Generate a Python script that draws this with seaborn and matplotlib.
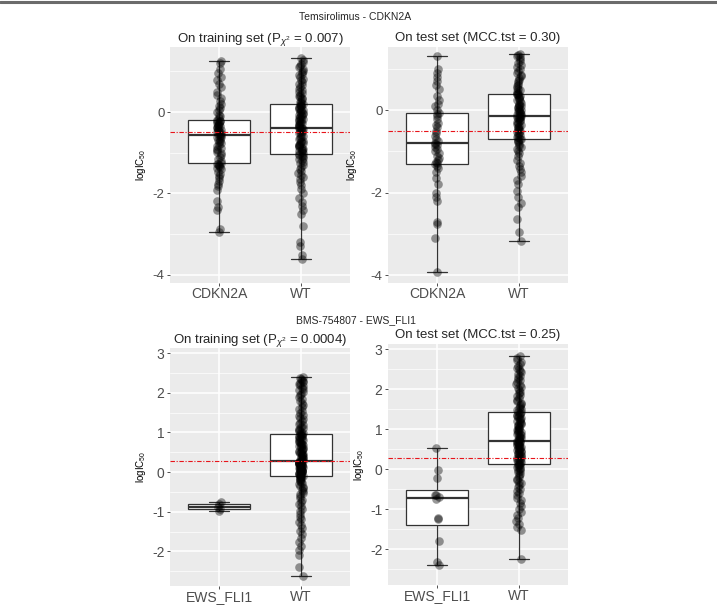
import numpy as np
import pandas as pd
import matplotlib
matplotlib.use("Agg")
import matplotlib.pyplot as plt
import seaborn as sns
from matplotlib.lines import Line2D

# ---------------- data ----------------
tem_groups = ["CDKN2A", "WT"]
bms_groups = ["EWS_FLI1", "WT"]

tem_train_cdkn2a = [
    -2.95, -2.87, -2.41, -2.33, -2.18, -1.92, -1.81, -1.76, -1.69, -1.63,
    -1.56, -1.51, -1.46, -1.41, -1.38, -1.35, -1.32, -1.3, -1.28, -1.27,
    -1.25,
    -1.21, -1.16, -1.1, -1.06, -1.01, -0.97, -0.94, -0.9, -0.87, -0.83,
    -0.8, -0.77, -0.74, -0.71, -0.69, -0.65, -0.62, -0.6, -0.58,
    -0.57,
    -0.55, -0.53, -0.52, -0.49, -0.47, -0.45, -0.43, -0.41, -0.39, -0.37,
    -0.35, -0.34, -0.31, -0.29, -0.27, -0.25, -0.23, -0.22, -0.21,
    -0.2,
    -0.15, -0.1, -0.06, 0.0, 0.05, 0.11, 0.16, 0.21, 0.28, 0.35,
    0.43, 0.5, 0.61, 0.7, 0.78, 0.86, 0.95, 1.06, 1.2, 1.26,
]
tem_train_wt = [
    -3.6, -3.5, -3.3, -3.2, -2.8, -2.5, -2.4, -2.3, -2.2, -2.1,
    -2.0, -1.9, -1.8, -1.72, -1.65, -1.6, -1.55, -1.5, -1.45, -1.4,
    -1.35, -1.3, -1.26, -1.22, -1.18, -1.15, -1.12, -1.09, -1.07, -1.05,
    -1.03,
    -1.0, -0.98, -0.96, -0.94, -0.92, -0.9, -0.88, -0.86, -0.84, -0.82,
    -0.8, -0.78, -0.76, -0.74, -0.72, -0.7, -0.67, -0.64, -0.61, -0.58,
    -0.55, -0.52, -0.5, -0.48, -0.46, -0.44, -0.42, -0.4, -0.39,
    -0.38,
    -0.36, -0.34, -0.32, -0.3, -0.28, -0.26, -0.24, -0.22, -0.2, -0.18,
    -0.16, -0.14, -0.12, -0.1, -0.08, -0.06, -0.04, -0.02, 0.0, 0.02,
    0.04, 0.06, 0.08, 0.1, 0.12, 0.14, 0.16, 0.17, 0.18,
    0.19,
    0.22, 0.25, 0.28, 0.31, 0.34, 0.37, 0.4, 0.43, 0.46, 0.5,
    0.54, 0.58, 0.62, 0.66, 0.7, 0.74, 0.78, 0.82, 0.86, 0.9,
    0.94, 0.98, 1.02, 1.06, 1.1, 1.14, 1.18, 1.22, 1.28, 1.33,
]
tem_test_cdkn2a = [
    -3.93, -3.1, -2.75, -2.7, -2.2, -2.1, -2.0, -1.8, -1.65, -1.5, -1.4, -1.35,
    -1.31,
    -1.28, -1.25, -1.2, -1.15, -1.1, -1.05, -1.0, -0.95, -0.9, -0.85, -0.82,
    -0.79,
    -0.75, -0.7, -0.62, -0.55, -0.5, -0.42, -0.35, -0.3, -0.22, -0.15, -0.1,
    -0.06,
    0.0, 0.1, 0.15, 0.25, 0.35, 0.5, 0.6, 0.7, 0.8, 0.9, 1.0, 1.3,
]
tem_test_wt = [
    -3.17, -2.95, -2.65, -2.35, -2.25, -2.1, -1.95, -1.8, -1.7, -1.6,
    -1.5, -1.42, -1.35, -1.28, -1.2, -1.12, -1.05, -1.0, -0.95, -0.9,
    -0.86, -0.82, -0.78, -0.75, -0.73,
    -0.71,
    -0.69, -0.66, -0.64, -0.61, -0.58, -0.56, -0.53, -0.5, -0.48, -0.45,
    -0.43, -0.4, -0.38, -0.35, -0.33, -0.3, -0.28, -0.26, -0.24, -0.22,
    -0.2, -0.18, -0.17, -0.16,
    -0.15,
    -0.13, -0.11, -0.09, -0.07, -0.05, -0.03, -0.01, 0.01, 0.03, 0.05,
    0.07, 0.09, 0.11, 0.13, 0.15, 0.18, 0.21, 0.24, 0.27, 0.3,
    0.32, 0.34, 0.36, 0.38,
    0.39,
    0.42, 0.45, 0.48, 0.51, 0.54, 0.58, 0.62, 0.66, 0.7, 0.74,
    0.78, 0.82, 0.86, 0.9, 0.95, 1.0, 1.05, 1.1, 1.15, 1.2,
    1.24, 1.28, 1.31, 1.33, 1.36,
]
bms_train_ews = [-0.98, -0.94, -0.89, -0.81, -0.74]
bms_train_wt = [
    -2.62, -2.4, -2.1, -1.95, -1.85, -1.75, -1.65, -1.55, -1.48, -1.4,
    -1.32, -1.25, -1.18, -1.12, -1.05, -0.98, -0.92, -0.86, -0.8, -0.75,
    -0.7, -0.65, -0.6, -0.56, -0.52, -0.48, -0.44, -0.4, -0.37, -0.34,
    -0.31, -0.28, -0.25, -0.22, -0.2, -0.18, -0.16, -0.14, -0.13, -0.12,
    -0.1,
    -0.09, -0.08, -0.07, -0.06, -0.05, -0.04, -0.03, -0.02, -0.01, 0.0,
    0.01, 0.02, 0.03, 0.04, 0.05, 0.06, 0.07, 0.08, 0.09, 0.1,
    0.11, 0.12, 0.13, 0.14, 0.15, 0.16, 0.17, 0.18, 0.19, 0.2,
    0.21, 0.22, 0.23, 0.24, 0.25, 0.26, 0.265, 0.27, 0.275,
    0.28,
    0.3, 0.31, 0.33, 0.35, 0.36, 0.38, 0.4, 0.42, 0.43, 0.45,
    0.47, 0.49, 0.5, 0.52, 0.54, 0.56, 0.57, 0.59, 0.61, 0.63,
    0.65, 0.66, 0.68, 0.7, 0.72, 0.74, 0.75, 0.77, 0.79, 0.81,
    0.83, 0.84, 0.86, 0.88, 0.9, 0.91, 0.92, 0.94, 0.95,
    0.96,
    0.98, 1.0, 1.03, 1.06, 1.09, 1.12, 1.15, 1.18, 1.21, 1.25,
    1.29, 1.33, 1.37, 1.41, 1.45, 1.5, 1.55, 1.6, 1.65, 1.7,
    1.75, 1.8, 1.85, 1.9, 1.94, 1.98, 2.02, 2.06, 2.1, 2.13,
    2.16, 2.19, 2.22, 2.25, 2.28, 2.3, 2.33, 2.35, 2.38, 2.4,
]
bms_test_ews = [-2.4, -2.32, -1.8, -1.25, -1.22, -0.74, -0.7, -0.66, -0.64, -0.22, -0.02, 0.52]
bms_test_wt = [
    -2.24, -1.52, -1.45, -1.38, -1.3, -1.22, -1.15, -1.08, -1.0, -0.92,
    -0.85, -0.78, -0.72, -0.66, -0.6, -0.55, -0.5, -0.45, -0.4, -0.36,
    -0.32, -0.28, -0.24, -0.2, -0.16, -0.12, -0.08, -0.05, -0.02, 0.0,
    0.03, 0.05, 0.07, 0.09, 0.11,
    0.12,
    0.14, 0.16, 0.18, 0.2, 0.22, 0.24, 0.26, 0.27, 0.29, 0.31,
    0.33, 0.35, 0.36, 0.38, 0.4, 0.42, 0.43, 0.45, 0.47, 0.49,
    0.5, 0.52, 0.54, 0.56, 0.57, 0.59, 0.61, 0.62, 0.64, 0.65,
    0.66, 0.68, 0.69, 0.7,
    0.71,
    0.73, 0.75, 0.77, 0.79, 0.81, 0.83, 0.85, 0.87, 0.89, 0.91,
    0.93, 0.95, 0.97, 0.99, 1.01, 1.03, 1.05, 1.08, 1.1, 1.12,
    1.14, 1.16, 1.19, 1.21, 1.23, 1.25, 1.27, 1.3, 1.32, 1.34,
    1.36, 1.38, 1.4, 1.42,
    1.44,
    1.47, 1.5, 1.53, 1.56, 1.6, 1.63, 1.66, 1.7, 1.74, 1.78,
    1.82, 1.86, 1.9, 1.94, 1.98, 2.02, 2.06, 2.1, 2.14, 2.18,
    2.22, 2.26, 2.3, 2.34, 2.38, 2.42, 2.46, 2.5, 2.54, 2.58,
    2.62, 2.67, 2.72, 2.77, 2.83,
]

tem_ref_line = -0.5
bms_ref_line = 0.28

tem_title = "Temsirolimus - CDKN2A"
bms_title = "BMS-754807 - EWS_FLI1"
tem_train_title = r"On training set (P$_{\chi^2}$ = 0.007)"
tem_test_title = "On test set (MCC.tst = 0.30)"
bms_train_title = r"On training set (P$_{\chi^2}$ = 0.0004)"
bms_test_title = "On test set (MCC.tst = 0.25)"
ylabel = r"logIC$_{50}$"

tem_major = [-4, -2, 0]
tem_minor = [-3, -1, 1]
bms_major = [-2, -1, 0, 1, 2, 3]
bms_minor = [-2.5, -1.5, -0.5, 0.5, 1.5, 2.5]

# ---------------- plotting ----------------
sns.set_theme(style="white")
plt.rcParams["font.family"] = ["Liberation Sans", "DejaVu Sans"]
plt.rcParams["mathtext.fontset"] = "custom"
plt.rcParams["mathtext.rm"] = "Liberation Sans"
plt.rcParams["mathtext.it"] = "Liberation Sans:italic"

W, H = 717, 605
fig = plt.figure(figsize=(W / 100, H / 100), dpi=100)
fig.patch.set_facecolor("white")


def px_axes(x0, y0, x1, y1):
    return fig.add_axes([x0 / W, 1 - y1 / H, (x1 - x0) / W, (y1 - y0) / H])


def panel(ax, groups, a, b, ref, ylim, major, minor, title, tick_fs, seed):
    df = pd.DataFrame({
        "group": [groups[0]] * len(a) + [groups[1]] * len(b),
        "value": list(a) + list(b),
    })
    ax.set_facecolor("#EBEBEB")
    sns.boxplot(data=df, x="group", y="value", order=groups, ax=ax,
                color="white", saturation=1, width=0.75, whis=(0, 100),
                linecolor="#333333", linewidth=0.9, fliersize=0,
                capwidths=0.25,
                medianprops={"linewidth": 1.6, "color": "#333333"})
    np.random.seed(seed)
    sns.stripplot(data=df, x="group", y="value", order=groups, ax=ax,
                  color="black", alpha=0.4, size=6.2, jitter=0.03,
                  linewidth=0, zorder=3)
    ax.axhline(ref, color="#E8141B", linestyle=(0, (4, 1.5, 1, 1.5)),
               linewidth=0.8, zorder=4)
    ax.set_xlim(-0.6, 1.6)
    ax.set_ylim(*ylim)
    ax.set_yticks(major)
    ax.set_yticks(minor, minor=True)
    ax.set_yticklabels([f"{v:g}" for v in major])
    ax.grid(True, which="major", color="white", linewidth=1.1)
    ax.grid(True, which="minor", axis="y", color="white", linewidth=0.5)
    ax.set_axisbelow(True)
    for s in ax.spines.values():
        s.set_visible(False)
    ax.tick_params(axis="both", which="major", length=2.5, width=0.6,
                   color="#333333", labelcolor="#4D4D4D",
                   labelsize=tick_fs, pad=1.5, left=True, bottom=True)
    ax.tick_params(axis="y", which="minor", length=0)
    ax.tick_params(axis="x", labelsize=10, pad=0.5)
    ax.set_xlabel("")
    ax.set_ylabel(ylabel, fontsize=7, color="black", labelpad=3)
    ax.set_title(title, fontsize=9.5, pad=4)


ax1 = px_axes(170, 47, 350, 283)
panel(ax1, tem_groups, tem_train_cdkn2a, tem_train_wt, tem_ref_line,
      (-4.2, 1.6), tem_major, tem_minor, tem_train_title, 9.5, 1)
ax2 = px_axes(388, 47, 568, 283)
panel(ax2, tem_groups, tem_test_cdkn2a, tem_test_wt, tem_ref_line,
      (-4.19, 1.53), tem_major, tem_minor, tem_test_title, 9.5, 2)
ax2.yaxis.labelpad = 8
ax3 = px_axes(170, 348, 350, 586)
panel(ax3, bms_groups, bms_train_ews, bms_train_wt, bms_ref_line,
      (-2.87, 3.13), bms_major, bms_minor, bms_train_title, 10, 3)
ax4 = px_axes(388, 344, 568, 585)
panel(ax4, bms_groups, bms_test_ews, bms_test_wt, bms_ref_line,
      (-2.9, 3.13), bms_major, bms_minor, bms_test_title, 10, 4)

fig.text(355 / W, 1 - 17 / H, tem_title, ha="center", va="center", fontsize=7.5)
fig.text(356 / W, 1 - 320 / H, bms_title, ha="center", va="center", fontsize=7.5)

fig.add_artist(Line2D([0, 1], [1 - 1.5 / H, 1 - 1.5 / H], color="#6b6b6b",
                      linewidth=2.2, transform=fig.transFigure))

fig.savefig("out.png", dpi=100)
